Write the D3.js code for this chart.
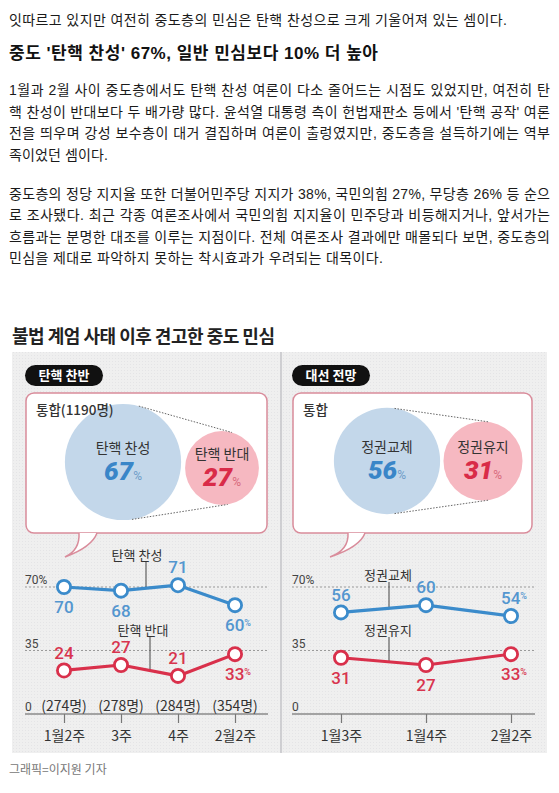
<!DOCTYPE html>
<html><head><meta charset="utf-8">
<script src="https://cdn.jsdelivr.net/npm/d3@7/dist/d3.min.js"></script>
<style>
html,body{margin:0;padding:0;background:#fff;}
svg{display:block;}
</style></head>
<body>
<script>
// ---------- DATA ----------
const introLine = "잇따르고 있지만 여전히 중도층의 민심은 탄핵 찬성으로 크게 기울어져 있는 셈이다.";
const headline = "중도 '탄핵 찬성' 67%, 일반 민심보다 10% 더 높아";
const para1 = [
  "1월과 2월 사이 중도층에서도 탄핵 찬성 여론이 다소 줄어드는 시점도 있었지만, 여전히 탄",
  "핵 찬성이 반대보다 두 배가량 많다. 윤석열 대통령 측이 헌법재판소 등에서 '탄핵 공작' 여론",
  "전을 띄우며 강성 보수층이 대거 결집하며 여론이 출렁였지만, 중도층을 설득하기에는 역부",
  "족이었던 셈이다."
];
const para2 = [
  "중도층의 정당 지지율 또한 더불어민주당 지지가 38%, 국민의힘 27%, 무당층 26% 등 순으",
  "로 조사됐다. 최근 각종 여론조사에서 국민의힘 지지율이 민주당과 비등해지거나, 앞서가는",
  "흐름과는 분명한 대조를 이루는 지점이다. 전체 여론조사 결과에만 매몰되다 보면, 중도층의",
  "민심을 제대로 파악하지 못하는 착시효과가 우려되는 대목이다."
];
const chartTitle = "불법 계엄 사태 이후 견고한 중도 민심";
const credit = "그래픽=이지원 기자";

const panelTitles = ["탄핵 찬반", "대선 전망"];
const bubbleCaptions = ["통합(1190명)", "통합"];
const bubbleLeftLabels = ["탄핵 찬성", "탄핵 반대"];
const bubbleLeftValues = [67, 27];
const bubbleRightLabels = ["정권교체", "정권유지"];
const bubbleRightValues = [56, 31];

const yTickValues = [0, 35, 70];
const yTickLabels = ["0", "35", "70%"];

const leftCats = ["1월2주", "3주", "4주", "2월2주"];
const leftSamples = ["(274명)", "(278명)", "(284명)", "(354명)"];
const leftFor = [70, 68, 71, 60];
const leftAgainst = [24, 27, 21, 33];
const leftSeriesNames = ["탄핵 찬성", "탄핵 반대"];

const rightCats = ["1월3주", "1월4주", "2월2주"];
const rightChange = [56, 60, 54];
const rightKeep = [31, 27, 33];
const rightSeriesNames = ["정권교체", "정권유지"];

// label placement (above / below the point)
const leftForPos = ["below", "below", "above", "below"];
const leftAgainstPos = ["above", "above", "above", "below"];
const rightChangePos = ["above", "above", "above"];
const rightKeepPos = ["below", "below", "below"];

// ---------- STYLE ----------
const BLUE = "#3b8bcb", BLUE_TXT = "#5396cf", RED = "#d9304b", RED_TXT = "#d8344e";
const BLUE_BUB = "#c3d7ea", PINK_BUB = "#f6b8c1", BOX_STROKE = "#d98c9b";
const KR = "'Noto Sans CJK KR', sans-serif";
const BODY = "'Liberation Sans', 'Noto Sans CJK KR', sans-serif";
const NUM = "Roboto, 'Noto Sans CJK KR', sans-serif";

const W = 559, H = 793;
const svg = d3.select("body").append("svg").attr("width", W).attr("height", H);
svg.append("rect").attr("width", W).attr("height", H).attr("fill", "#fff");

// ---------- ARTICLE TEXT ----------
function textLine(str, x, y, len, opts = {}) {
  const t = svg.append("text").attr("x", x).attr("y", y).attr("dy", "0.36em")
    .attr("font-family", opts.family || BODY).attr("font-size", opts.size || 14)
    .attr("font-weight", opts.weight || 400).attr("fill", opts.fill || "#1a1a1a")
    .text(str);
  if (len) {
    const nat = t.node().getComputedTextLength();
    const n = Array.from(str).length;
    const ls = (len - nat) / Math.max(1, n - 1);
    t.attr("letter-spacing", ls.toFixed(3));
  }
  return t;
}
const LX = 9, RX = 550;
textLine(introLine, LX, 20, 507 - LX);
textLine(headline, LX, 53, 378 - LX, {size: 17, weight: 700, fill: "#111"});
const p1y = [90, 112, 133, 155];
para1.forEach((s, i) => textLine(s, LX, p1y[i], i < 3 ? RX - LX : 108 - LX));
const p2y = [194, 215, 237, 258];
para2.forEach((s, i) => textLine(s, LX, p2y[i], i < 3 ? RX - LX : 383 - LX));

// ---------- CHART FRAME ----------
textLine(chartTitle, 12, 337, 263, {family: KR, size: 18, weight: 700, fill: "#222"});

const defs = svg.append("defs");
const pat = defs.append("pattern").attr("id", "dots").attr("width", 3).attr("height", 3)
  .attr("patternUnits", "userSpaceOnUse");
pat.append("rect").attr("width", 3).attr("height", 3).attr("fill", "#efefef");
pat.append("rect").attr("x", 1).attr("y", 1).attr("width", 1).attr("height", 1).attr("fill", "#e4e4e6");

svg.append("rect").attr("x", 12).attr("y", 352).attr("width", 535).attr("height", 401)
  .attr("fill", "url(#dots)");
svg.append("line").attr("x1", 281).attr("x2", 281).attr("y1", 352).attr("y2", 753)
  .attr("stroke", "#c4c4c8").attr("stroke-width", 1.5);

textLine(credit, 9, 770, null, {family: KR, size: 12, fill: "#777"});

// ---------- PANELS ----------
const panels = [
  {x0: 25, pillW: 78, box: [26, 393, 241, 140], tail: [79, 97, 65],
   caption: bubbleCaptions[0], title: panelTitles[0],
   bubbles: [{c: [123, 462]}, {c: [222, 468]}],
   labels: bubbleLeftLabels, values: bubbleLeftValues},
  {x0: 292, pillW: 78, box: [293, 393, 239, 140], tail: [348, 365, 330],
   caption: bubbleCaptions[1], title: panelTitles[1],
   bubbles: [{c: [387, 461]}, {c: [483, 461]}],
   labels: bubbleRightLabels, values: bubbleRightValues}
];
const rScale = d3.scaleSqrt().domain([0, 100]).range([0, 71]);

function tangents(c1, r1, c2, r2) {
  const dx = c2[0] - c1[0], dy = c2[1] - c1[1], D = Math.hypot(dx, dy);
  const th = Math.atan2(dy, dx), a = Math.acos((r1 - r2) / D);
  return [th - a, th + a].map(t => [
    [c1[0] + r1 * Math.cos(t), c1[1] + r1 * Math.sin(t)],
    [c2[0] + r2 * Math.cos(t), c2[1] + r2 * Math.sin(t)]
  ]);
}

panels.forEach(p => {
  const g = svg.append("g");
  // pill
  g.append("rect").attr("x", p.x0).attr("y", 365).attr("width", p.pillW).attr("height", 21)
    .attr("rx", 10.5).attr("fill", "#111");
  g.append("text").attr("x", p.x0 + p.pillW / 2).attr("y", 375.5).attr("dy", "0.36em")
    .attr("text-anchor", "middle").attr("font-family", KR).attr("font-size", 13)
    .attr("font-weight", 700).attr("fill", "#fff").text(p.title);
  // speech box
  const [bx, by, bw, bh] = p.box;
  g.append("rect").attr("x", bx).attr("y", by).attr("width", bw).attr("height", bh)
    .attr("rx", 8).attr("fill", "#fff").attr("stroke", BOX_STROKE).attr("stroke-width", 1.5);
  const [t1, t2, tip] = p.tail, bb = by + bh;
  const tailPath = `M${t1},${bb} Q${t1 + 1},${bb + 17} ${tip},${bb + 24} Q${t2 - 5},${bb + 14} ${t2},${bb}`;
  g.append("path").attr("d", tailPath + "Z").attr("fill", "#fff").attr("stroke", "none");
  g.append("path").attr("d", tailPath).attr("fill", "none").attr("stroke", BOX_STROKE).attr("stroke-width", 1.5);
  // bubbles
  p.bubbles.forEach((b, i) => b.r = rScale(p.values[i]));
  const tg = tangents(p.bubbles[0].c, p.bubbles[0].r, p.bubbles[1].c, p.bubbles[1].r);
  p.bubbles.forEach((b, i) => {
    g.append("circle").attr("cx", b.c[0]).attr("cy", b.c[1]).attr("r", b.r)
      .attr("fill", i === 0 ? BLUE_BUB : PINK_BUB);
  });
  tg.forEach(seg => {
    g.append("line").attr("x1", seg[0][0]).attr("y1", seg[0][1]).attr("x2", seg[1][0]).attr("y2", seg[1][1])
      .attr("stroke", "#666").attr("stroke-width", 1).attr("stroke-dasharray", "1.5,1.5");
  });
  // caption on top of bubbles
  g.append("text").attr("x", bx + 10).attr("y", by + 17).attr("dy", "0.36em")
    .attr("font-family", KR).attr("font-size", 13.5).attr("font-weight", 500)
    .attr("fill", "#333").text(p.caption);
  p.bubbles.forEach((b, i) => {
    g.append("text").attr("x", b.c[0]).attr("y", b.c[1] - 14).attr("dy", "0.36em")
      .attr("text-anchor", "middle").attr("font-family", KR).attr("font-size", 14)
      .attr("fill", "#333").text(p.labels[i]);
    const nt = g.append("text").attr("x", b.c[0]).attr("y", b.c[1] + 9).attr("dy", "0.36em")
      .attr("text-anchor", "middle").attr("font-family", NUM).attr("font-size", 26)
      .attr("font-weight", 900).attr("font-style", "italic")
      .attr("fill", i === 0 ? "#3a86c8" : "#d92b48");
    nt.append("tspan").text(p.values[i]);
    nt.append("tspan").attr("font-size", 12).attr("font-weight", 400).attr("font-style", "normal")
      .attr("fill", i === 0 ? "#6d9cc8" : "#d86a7c").text("%");
  });
});

// ---------- LINE CHARTS ----------
const y = d3.scaleLinear().domain([0, 70]).range([714, 587]);

function lineChart(cfg) {
  const g = svg.append("g");
  const x = d3.scalePoint().domain(cfg.cats).range(cfg.xr);
  // grid lines
  yTickValues.forEach((v, i) => {
    g.append("line").attr("x1", cfg.gx[0]).attr("x2", cfg.gx[1]).attr("y1", y(v)).attr("y2", y(v))
      .attr("stroke", v === 0 ? "#8a8a8a" : "#9a9a9a").attr("stroke-width", v === 0 ? 1.3 : 1)
      .attr("stroke-dasharray", v === 0 ? null : "2,2");
    g.append("text").attr("x", cfg.gx[0]).attr("y", y(v) - 3).attr("font-family", NUM)
      .attr("font-size", 12).attr("fill", "#444").text(yTickLabels[i]);
  });
  // x axis ticks
  const ax = g.append("g").attr("transform", `translate(0,${y(0)})`)
    .call(d3.axisBottom(x).tickSize(9).tickPadding(8));
  ax.select(".domain").remove();
  ax.selectAll(".tick line").attr("stroke", "#777").attr("stroke-width", 1.2);
  ax.selectAll(".tick text").attr("font-family", KR).attr("font-size", 14).attr("fill", "#333");
  // sample sizes
  if (cfg.samples) {
    cfg.cats.forEach((c, i) => {
      g.append("text").attr("x", x(c)).attr("y", 706).attr("dy", "0.36em").attr("text-anchor", "middle")
        .attr("font-family", KR).attr("font-size", 14).attr("fill", "#333").text(cfg.samples[i]);
    });
  }
  // series
  cfg.series.forEach(s => {
    const pts = cfg.cats.map((c, i) => [x(c), y(s.values[i])]);
    const lx = s.leaderX;
    let ly;
    for (let i = 0; i < pts.length - 1; i++) {
      if (lx >= pts[i][0] && lx <= pts[i + 1][0]) {
        const t = (lx - pts[i][0]) / (pts[i + 1][0] - pts[i][0]);
        ly = pts[i][1] + t * (pts[i + 1][1] - pts[i][1]);
      }
    }
    g.append("line").attr("x1", lx).attr("x2", lx).attr("y1", s.nameY + 7).attr("y2", ly)
      .attr("stroke", "#444").attr("stroke-width", 1);
    g.append("text").attr("x", s.nameX).attr("y", s.nameY).attr("dy", "0.36em").attr("text-anchor", "middle")
      .attr("font-family", KR).attr("font-size", 13).attr("fill", "#333").text(s.name);
    g.append("path").attr("d", d3.line()(pts)).attr("fill", "none")
      .attr("stroke", s.color).attr("stroke-width", 3.2).attr("stroke-linejoin", "round");
    pts.forEach((p, i) => {
      g.append("circle").attr("cx", p[0]).attr("cy", p[1]).attr("r", 6.6)
        .attr("fill", "#fff").attr("stroke", s.color).attr("stroke-width", 2.8);
      const last = i === pts.length - 1;
      const ty = p[1] + (s.pos[i] === "above" ? -18 : 20);
      const t = g.append("text").attr("x", p[0] + (last ? 3 : 0)).attr("y", ty).attr("dy", "0.36em")
        .attr("text-anchor", "middle").attr("font-family", NUM).attr("font-size", 17)
        .attr("font-weight", 500).attr("fill", s.txt);
      t.append("tspan").text(s.values[i]);
      if (last) t.append("tspan").attr("font-size", 9).attr("dy", "-0.6em").text("%");
    });
  });
}

lineChart({
  cats: leftCats, xr: [64, 235], gx: [25, 268], samples: leftSamples,
  series: [
    {name: leftSeriesNames[0], values: leftFor, pos: leftForPos, color: BLUE, txt: BLUE_TXT,
     nameX: 137, nameY: 555, leaderX: 146},
    {name: leftSeriesNames[1], values: leftAgainst, pos: leftAgainstPos, color: RED, txt: RED_TXT,
     nameX: 143, nameY: 630, leaderX: 150}
  ]
});
lineChart({
  cats: rightCats, xr: [341, 511], gx: [292, 535], samples: null,
  series: [
    {name: rightSeriesNames[0], values: rightChange, pos: rightChangePos, color: BLUE, txt: BLUE_TXT,
     nameX: 388, nameY: 575, leaderX: 389},
    {name: rightSeriesNames[1], values: rightKeep, pos: rightKeepPos, color: RED, txt: RED_TXT,
     nameX: 388, nameY: 630, leaderX: 389}
  ]
});
</script>
</body></html>
